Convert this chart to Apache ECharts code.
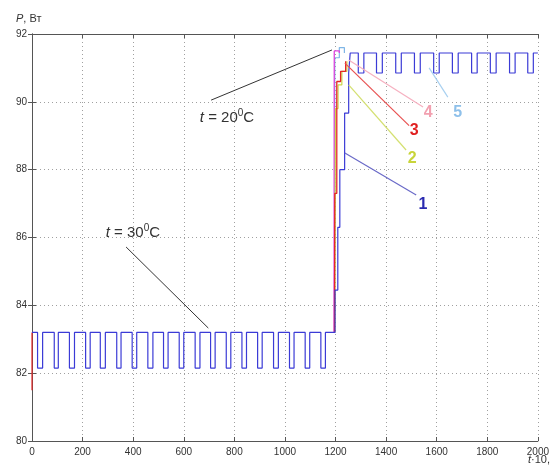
<!DOCTYPE html>
<html><head><meta charset="utf-8">
<script src="https://cdn.jsdelivr.net/npm/echarts@6/dist/echarts.min.js"></script>
<style>html,body{margin:0;padding:0;background:#fff}#c{width:552px;height:466px}</style>
</head><body><div id="c"></div>
<script>
// ---- data ----
const xMin = 0, xMax = 2000, xStep = 200;
const yMin = 80, yMax = 92, yStep = 2;
// regime t = 30 C (0..1200 s): high / low levels and low intervals
const wave1High = 83.2, wave1Low = 82.15;
const wave1LowStart = [22, 88, 148, 212, 270, 335, 396, 458, 520, 582, 645, 706, 768, 830, 892, 955, 1018, 1080, 1142];
const wave1LowEnd   = [42, 104, 168, 230, 290, 352, 414, 478, 538, 600, 664, 724, 786, 848, 910, 974, 1036, 1098, 1160];
// transition of curve 1 (blue staircase)
const curve1StepT = [1198, 1209, 1217, 1236, 1252, 1258];
const curve1StepP = [84.45, 86.3, 88.0, 89.67, 90.85, 91.44];
// regime t = 20 C (after ~1260 s)
const wave2High = 91.44, wave2Low = 90.85;
const wave2LowStart = [1290, 1362, 1438, 1512, 1588, 1662, 1738, 1812, 1888, 1960];
const wave2LowEnd   = [1312, 1385, 1460, 1535, 1610, 1685, 1760, 1835, 1910, 1982];
// transitions of curves 2..5
const curve2T = [1197, 1200, 1210, 1225, 1245];
const curve2P = [83.2, 89.8, 90.5, 90.9, 91.2];
const curve3T = [1196, 1197, 1205, 1220, 1240];
const curve3P = [83.2, 87.3, 90.6, 90.9, 91.2];
const curve4T = [1194, 1195, 1215];
const curve4P = [83.2, 91.5, 91.44];
const curve5T = [1196, 1197, 1215, 1235];
const curve5P = [83.2, 91.3, 91.6, 91.44];
const initialRedT = [0, 0];
const initialRedP = [81.5, 83.2];
// annotation leaders and labels
const leaderNames = ['1', '2', '3', '4', '5'];
const leaderFrom = [[1237, 88.49], [1252, 90.5], [1237, 91.14], [1252, 91.23], [1570, 91.0]];
const leaderTo   = [[1519, 87.25], [1479, 88.58], [1491, 89.3], [1546, 89.85], [1644, 90.14]];
const leaderLabelAt = [[1546, 86.96], [1503, 88.34], [1511, 89.14], [1566, 89.67], [1683, 89.67]];
const tempLabels = ['20', '30'];
const tempLabelAt = [[771, 89.52], [399, 86.13]];
const tempLeaderFrom = [[708, 90.05], [372, 85.72]];
const tempLeaderTo = [[1186, 91.53], [697, 83.33]];

// ---- styles ----
const colC1 = '#3b3bd6', colC2 = '#c9d64a', colC3 = '#e52626', colC4 = '#dd44dd', colC5 = '#7fb6e6';
const labelColors = ['#2a2ab0', '#c8d43a', '#e02020', '#f2a0b0', '#8ec0ea'];
const leaderColors = ['#6a6ac8', '#d4e070', '#e85050', '#f6b0c0', '#a8d0f0'];

function stairsFromIntervals(high, low, s, e) {
  const pts = [];
  for (let i = 0; i < s.length; i++) { pts.push([s[i], low]); pts.push([e[i], high]); }
  return pts;
}
const blue = [[0, wave1High]]
  .concat(stairsFromIntervals(wave1High, wave1Low, wave1LowStart, wave1LowEnd))
  .concat(curve1StepT.map((t, i) => [t, curve1StepP[i]]))
  .concat(stairsFromIntervals(wave2High, wave2Low, wave2LowStart, wave2LowEnd));
blue.push([xMax, wave2High]);

const zip = (a, b) => a.map((v, i) => [v, b[i]]);

const chart = echarts.init(document.getElementById('c'), null, {renderer: 'canvas'});
const font = 'Arial, "Liberation Sans", sans-serif';
const axisLineStyle = {color: '#555', width: 1};

const leaderLines = leaderFrom.map((f, i) => [
  {coord: f, lineStyle: {color: leaderColors[i], width: 1.2, type: 'solid'}},
  {coord: leaderTo[i]}
]).concat(tempLeaderFrom.map((f, i) => [
  {coord: f, lineStyle: {color: '#333', width: 1, type: 'solid'}},
  {coord: tempLeaderTo[i]}
]));

const labelPoints = leaderLabelAt.map((c, i) => ({
  coord: c, symbolSize: 0,
  label: {show: true, formatter: leaderNames[i], color: labelColors[i], fontSize: 16, fontWeight: 'bold', fontFamily: font}
})).concat(tempLabelAt.map((c, i) => ({
  coord: c, symbolSize: 0,
  label: {show: true, formatter: '{it|t} = ' + tempLabels[i] + '{sup|0}C', color: '#333', fontSize: 15, fontFamily: font,
    rich: {it: {fontStyle: 'italic', fontSize: 15, fontFamily: font, color: '#333'},
           sup: {fontSize: 10, fontFamily: font, color: '#333', padding: [0, 0, 9, 0]}}}
})));

const plain = v => String(v);

chart.setOption({
  animation: false,
  backgroundColor: '#fff',
  grid: {left: 32, right: 9, top: 34, bottom: 25, show: false},
  xAxis: [{
    type: 'value', min: xMin, max: xMax, interval: xStep, position: 'bottom',
    axisLine: {show: true, lineStyle: axisLineStyle},
    axisTick: {show: true, inside: true, length: 4, lineStyle: axisLineStyle},
    axisLabel: {color: '#333', fontSize: 10, fontFamily: font, margin: 6, formatter: plain},
    splitLine: {show: true, lineStyle: {type: [1, 3], color: '#a0a0a0', width: 1}}
  }, {
    type: 'value', min: xMin, max: xMax, interval: xStep, position: 'top',
    axisLine: {show: true, lineStyle: axisLineStyle},
    axisTick: {show: true, inside: true, length: 4, lineStyle: axisLineStyle},
    axisLabel: {show: false}, splitLine: {show: false}
  }],
  yAxis: [{
    type: 'value', min: yMin, max: yMax, interval: yStep, position: 'left',
    axisLine: {show: true, lineStyle: axisLineStyle},
    axisTick: {show: true, inside: true, length: 4, lineStyle: axisLineStyle},
    axisLabel: {color: '#333', fontSize: 10, fontFamily: font, margin: 5, formatter: plain},
    splitLine: {show: true, lineStyle: {type: [1, 3], color: '#a0a0a0', width: 1}}
  }, {
    type: 'value', min: yMin, max: yMax, interval: yStep, position: 'right',
    axisLine: {show: true, lineStyle: axisLineStyle},
    axisTick: {show: true, inside: true, length: 4, lineStyle: axisLineStyle},
    axisLabel: {show: false}, splitLine: {show: false}
  }],
  graphic: [
    {type: 'text', left: 16, top: 13, style: {text: '{it|P}, Вт', fill: '#333', font: '11px ' + font,
      rich: {it: {fontStyle: 'italic', fontSize: 11, fontFamily: font}}}},
    {type: 'text', left: 528, top: 454, style: {text: '{it|t}·10, с', fill: '#333', font: '11px ' + font,
      rich: {it: {fontStyle: 'italic', fontSize: 11, fontFamily: font}}}}
  ],
  series: [
    {type: 'line', step: 'end', data: zip(initialRedT, initialRedP), showSymbol: false, lineStyle: {color: colC3, width: 1.2}},
    {type: 'line', step: 'end', data: zip(curve5T, curve5P), showSymbol: false, lineStyle: {color: colC5, width: 1.2}},
    {type: 'line', step: 'end', data: zip(curve4T, curve4P), showSymbol: false, lineStyle: {color: colC4, width: 1.3}},
    {type: 'line', step: 'end', data: zip(curve2T, curve2P), showSymbol: false, lineStyle: {color: colC2, width: 1.2}},
    {type: 'line', step: 'end', data: zip(curve3T, curve3P), showSymbol: false, lineStyle: {color: colC3, width: 1.3}},
    {type: 'line', step: 'end', data: blue, showSymbol: false, lineStyle: {color: colC1, width: 1.2},
      markLine: {silent: true, symbol: ['none', 'none'], label: {show: false}, animation: false, data: leaderLines},
      markPoint: {silent: true, symbol: 'circle', symbolSize: 0, animation: false, data: labelPoints}}
  ]
});
</script></body></html>
